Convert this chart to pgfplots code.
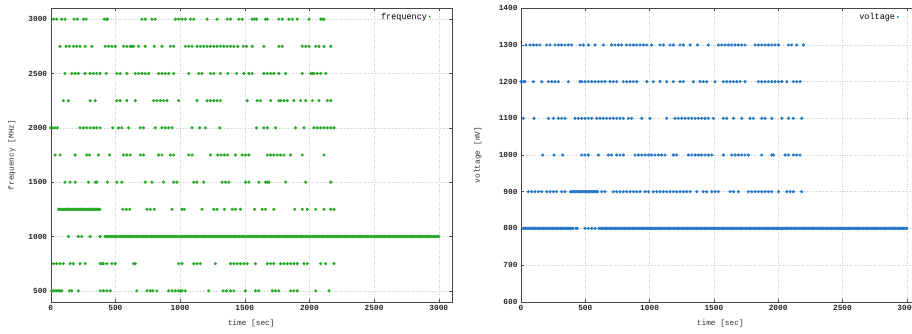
\documentclass[border=0pt]{standalone}
\usepackage{pgfplots}
\pgfplotsset{compat=1.18}
\usepackage{pgfplotstable}
\usepackage{fontspec}
\setmonofont{Liberation Mono}
\definecolor{fgreen}{RGB}{40,170,40}
\definecolor{vblue}{RGB}{40,120,200}

% frequency samples (time [sec], frequency [MHz])
\pgfplotstableread[row sep=\\]{
t f\\
21 3000\\ 46 3000\\ 85 3000\\ 111 3000\\ 181 3000\\ 207 3000\\ 253 3000\\ 274 3000\\ 413 3000\\ 429 3000\\ 439 3000\\ 705 3000\\ 731 3000\\ 783 3000\\ 808 3000\\ 963 3000\\ 989 3000\\ 1015 3000\\ 1041 3000\\ 1080 3000\\ 1106 3000\\ 1209 3000\\ 1286 3000\\ 1364 3000\\ 1390 3000\\ 1454 3000\\ 1480 3000\\ 1558 3000\\ 1576 3000\\ 1591 3000\\ 1661 3000\\ 1674 3000\\ 1764 3000\\ 1790 3000\\ 1842 3000\\ 1868 3000\\ 1906 3000\\ 1997 3000\\ 2087 3000\\ 2100 3000\\ 2113 3000\\
72 2750\\ 119 2750\\ 145 2750\\ 176 2750\\ 201 2750\\ 227 2750\\ 266 2750\\ 318 2750\\ 421 2750\\ 447 2750\\ 473 2750\\ 499 2750\\ 563 2750\\ 589 2750\\ 615 2750\\ 628 2750\\ 641 2750\\ 679 2750\\ 731 2750\\ 801 2750\\ 860 2750\\ 925 2750\\ 951 2750\\ 1041 2750\\ 1067 2750\\ 1093 2750\\ 1131 2750\\ 1157 2750\\ 1183 2750\\ 1209 2750\\ 1235 2750\\ 1261 2750\\ 1286 2750\\ 1312 2750\\ 1338 2750\\ 1364 2750\\ 1390 2750\\ 1416 2750\\ 1446 2750\\ 1488 2750\\ 1514 2750\\ 1558 2750\\ 1648 2750\\ 1764 2750\\ 1790 2750\\ 1945 2750\\ 1971 2750\\ 1997 2750\\ 2048 2750\\ 2074 2750\\ 2113 2750\\ 2165 2750\\
111 2500\\ 163 2500\\ 189 2500\\ 214 2500\\ 266 2500\\ 305 2500\\ 331 2500\\ 356 2500\\ 382 2500\\ 429 2500\\ 511 2500\\ 537 2500\\ 589 2500\\ 654 2500\\ 679 2500\\ 705 2500\\ 731 2500\\ 757 2500\\ 834 2500\\ 860 2500\\ 886 2500\\ 912 2500\\ 951 2500\\ 1067 2500\\ 1144 2500\\ 1170 2500\\ 1235 2500\\ 1261 2500\\ 1312 2500\\ 1369 2500\\ 1436 2500\\ 1493 2500\\ 1532 2500\\ 1558 2500\\ 1648 2500\\ 1674 2500\\ 1700 2500\\ 1725 2500\\ 1764 2500\\ 1816 2500\\ 1945 2500\\ 2010 2500\\ 2023 2500\\ 2035 2500\\ 2061 2500\\ 2087 2500\\ 2126 2500\\
98 2250\\ 137 2250\\ 305 2250\\ 344 2250\\ 511 2250\\ 537 2250\\ 589 2250\\ 654 2250\\ 796 2250\\ 821 2250\\ 847 2250\\ 873 2250\\ 899 2250\\ 989 2250\\ 1131 2250\\ 1209 2250\\ 1235 2250\\ 1261 2250\\ 1286 2250\\ 1312 2250\\ 1519 2250\\ 1596 2250\\ 1622 2250\\ 1700 2250\\ 1764 2250\\ 1777 2250\\ 1803 2250\\ 1829 2250\\ 1880 2250\\ 1932 2250\\ 1971 2250\\ 2023 2250\\ 2074 2250\\ 2139 2250\\ 2165 2250\\
0 2000\\ 15 2000\\ 34 2000\\ 52 2000\\ 227 2000\\ 253 2000\\ 279 2000\\ 305 2000\\ 331 2000\\ 356 2000\\ 382 2000\\ 480 2000\\ 524 2000\\ 550 2000\\ 602 2000\\ 692 2000\\ 718 2000\\ 808 2000\\ 860 2000\\ 886 2000\\ 912 2000\\ 938 2000\\ 1093 2000\\ 1152 2000\\ 1196 2000\\ 1307 2000\\ 1591 2000\\ 1648 2000\\ 1674 2000\\ 1738 2000\\ 1893 2000\\ 1958 2000\\ 2035 2000\\ 2061 2000\\ 2087 2000\\ 2113 2000\\ 2139 2000\\ 2165 2000\\ 2190 2000\\
34 1750\\ 72 1750\\ 189 1750\\ 279 1750\\ 300 1750\\ 369 1750\\ 455 1750\\ 563 1750\\ 589 1750\\ 615 1750\\ 692 1750\\ 718 1750\\ 834 1750\\ 860 1750\\ 925 1750\\ 951 1750\\ 1067 1750\\ 1093 1750\\ 1235 1750\\ 1292 1750\\ 1317 1750\\ 1343 1750\\ 1369 1750\\ 1428 1750\\ 1480 1750\\ 1506 1750\\ 1532 1750\\ 1674 1750\\ 1700 1750\\ 1725 1750\\ 1751 1750\\ 1777 1750\\ 1803 1750\\ 1855 1750\\ 1945 1750\\ 2113 1750\\
111 1500\\ 150 1500\\ 189 1500\\ 292 1500\\ 344 1500\\ 356 1500\\ 439 1500\\ 511 1500\\ 550 1500\\ 731 1500\\ 783 1500\\ 873 1500\\ 951 1500\\ 976 1500\\ 1106 1500\\ 1131 1500\\ 1183 1500\\ 1325 1500\\ 1351 1500\\ 1377 1500\\ 1506 1500\\ 1532 1500\\ 1609 1500\\ 1661 1500\\ 1674 1500\\ 1687 1500\\ 1816 1500\\ 1971 1500\\ 2165 1500\\
60 1250\\ 70 1250\\ 80 1250\\ 90 1250\\ 100 1250\\ 110 1250\\ 120 1250\\ 130 1250\\ 140 1250\\ 150 1250\\ 160 1250\\ 170 1250\\ 180 1250\\ 190 1250\\ 200 1250\\ 210 1250\\ 220 1250\\ 230 1250\\ 240 1250\\ 250 1250\\ 260 1250\\ 270 1250\\ 280 1250\\ 290 1250\\ 300 1250\\ 310 1250\\ 320 1250\\ 330 1250\\ 340 1250\\ 350 1250\\ 360 1250\\ 370 1250\\ 380 1250\\
558 1250\\ 584 1250\\ 610 1250\\ 744 1250\\ 770 1250\\ 801 1250\\ 938 1250\\ 1015 1250\\ 1033 1250\\ 1170 1250\\ 1261 1250\\ 1286 1250\\ 1343 1250\\ 1403 1250\\ 1428 1250\\ 1467 1250\\ 1576 1250\\ 1635 1250\\ 1661 1250\\ 1725 1250\\ 1886 1250\\ 1945 1250\\ 1984 1250\\ 2048 1250\\ 2113 1250\\ 2165 1250\\ 2190 1250\\
137 1000\\ 214 1000\\ 240 1000\\ 305 1000\\ 382 1000\\
420 1000\\ 430 1000\\ 440 1000\\ 450 1000\\ 460 1000\\ 470 1000\\ 480 1000\\ 490 1000\\ 500 1000\\ 510 1000\\ 520 1000\\ 530 1000\\ 540 1000\\ 550 1000\\ 560 1000\\ 570 1000\\ 580 1000\\ 590 1000\\ 600 1000\\ 610 1000\\ 620 1000\\ 630 1000\\ 640 1000\\ 650 1000\\ 660 1000\\ 670 1000\\ 680 1000\\ 690 1000\\ 700 1000\\ 710 1000\\ 720 1000\\ 730 1000\\ 740 1000\\ 750 1000\\ 760 1000\\ 770 1000\\ 780 1000\\ 790 1000\\ 800 1000\\ 810 1000\\ 820 1000\\ 830 1000\\ 840 1000\\ 850 1000\\ 860 1000\\ 870 1000\\ 880 1000\\ 890 1000\\ 900 1000\\ 910 1000\\ 920 1000\\ 930 1000\\ 940 1000\\ 950 1000\\ 960 1000\\ 970 1000\\ 980 1000\\ 990 1000\\
1000 1000\\ 1010 1000\\ 1020 1000\\ 1030 1000\\ 1040 1000\\ 1050 1000\\ 1060 1000\\ 1070 1000\\ 1080 1000\\ 1090 1000\\ 1100 1000\\ 1110 1000\\ 1120 1000\\ 1130 1000\\ 1140 1000\\ 1150 1000\\ 1160 1000\\ 1170 1000\\ 1180 1000\\ 1190 1000\\ 1200 1000\\ 1210 1000\\ 1220 1000\\ 1230 1000\\ 1240 1000\\ 1250 1000\\ 1260 1000\\ 1270 1000\\ 1280 1000\\ 1290 1000\\ 1300 1000\\ 1310 1000\\ 1320 1000\\ 1330 1000\\ 1340 1000\\ 1350 1000\\ 1360 1000\\ 1370 1000\\ 1380 1000\\ 1390 1000\\ 1400 1000\\ 1410 1000\\ 1420 1000\\ 1430 1000\\ 1440 1000\\ 1450 1000\\ 1460 1000\\ 1470 1000\\ 1480 1000\\ 1490 1000\\
1500 1000\\ 1510 1000\\ 1520 1000\\ 1530 1000\\ 1540 1000\\ 1550 1000\\ 1560 1000\\ 1570 1000\\ 1580 1000\\ 1590 1000\\ 1600 1000\\ 1610 1000\\ 1620 1000\\ 1630 1000\\ 1640 1000\\ 1650 1000\\ 1660 1000\\ 1670 1000\\ 1680 1000\\ 1690 1000\\ 1700 1000\\ 1710 1000\\ 1720 1000\\ 1730 1000\\ 1740 1000\\ 1750 1000\\ 1760 1000\\ 1770 1000\\ 1780 1000\\ 1790 1000\\ 1800 1000\\ 1810 1000\\ 1820 1000\\ 1830 1000\\ 1840 1000\\ 1850 1000\\ 1860 1000\\ 1870 1000\\ 1880 1000\\ 1890 1000\\ 1900 1000\\ 1910 1000\\ 1920 1000\\ 1930 1000\\ 1940 1000\\ 1950 1000\\ 1960 1000\\ 1970 1000\\ 1980 1000\\ 1990 1000\\
2000 1000\\ 2010 1000\\ 2020 1000\\ 2030 1000\\ 2040 1000\\ 2050 1000\\ 2060 1000\\ 2070 1000\\ 2080 1000\\ 2090 1000\\ 2100 1000\\ 2110 1000\\ 2120 1000\\ 2130 1000\\ 2140 1000\\ 2150 1000\\ 2160 1000\\ 2170 1000\\ 2180 1000\\ 2190 1000\\ 2200 1000\\ 2210 1000\\ 2220 1000\\ 2230 1000\\ 2240 1000\\ 2250 1000\\ 2260 1000\\ 2270 1000\\ 2280 1000\\ 2290 1000\\ 2300 1000\\ 2310 1000\\ 2320 1000\\ 2330 1000\\ 2340 1000\\ 2350 1000\\ 2360 1000\\ 2370 1000\\ 2380 1000\\ 2390 1000\\ 2400 1000\\ 2410 1000\\ 2420 1000\\ 2430 1000\\ 2440 1000\\ 2450 1000\\ 2460 1000\\ 2470 1000\\ 2480 1000\\ 2490 1000\\
2500 1000\\ 2510 1000\\ 2520 1000\\ 2530 1000\\ 2540 1000\\ 2550 1000\\ 2560 1000\\ 2570 1000\\ 2580 1000\\ 2590 1000\\ 2600 1000\\ 2610 1000\\ 2620 1000\\ 2630 1000\\ 2640 1000\\ 2650 1000\\ 2660 1000\\ 2670 1000\\ 2680 1000\\ 2690 1000\\ 2700 1000\\ 2710 1000\\ 2720 1000\\ 2730 1000\\ 2740 1000\\ 2750 1000\\ 2760 1000\\ 2770 1000\\ 2780 1000\\ 2790 1000\\ 2800 1000\\ 2810 1000\\ 2820 1000\\ 2830 1000\\ 2840 1000\\ 2850 1000\\ 2860 1000\\ 2870 1000\\ 2880 1000\\ 2890 1000\\ 2900 1000\\ 2910 1000\\ 2920 1000\\ 2930 1000\\ 2940 1000\\ 2950 1000\\ 2960 1000\\ 2970 1000\\ 2980 1000\\ 2990 1000\\ 3000 1000\\
21 750\\ 46 750\\ 72 750\\ 98 750\\ 150 750\\ 176 750\\ 227 750\\ 266 750\\ 382 750\\ 395 750\\ 408 750\\ 434 750\\ 473 750\\ 499 750\\ 641 750\\ 654 750\\ 989 750\\ 1015 750\\ 1106 750\\ 1131 750\\ 1157 750\\ 1273 750\\ 1390 750\\ 1416 750\\ 1441 750\\ 1467 750\\ 1493 750\\ 1519 750\\ 1583 750\\ 1674 750\\ 1700 750\\ 1725 750\\ 1777 750\\ 1803 750\\ 1829 750\\ 1855 750\\ 1880 750\\ 1906 750\\ 1958 750\\ 1984 750\\ 2087 750\\ 2126 750\\ 2190 750\\
8 500\\ 21 500\\ 34 500\\ 46 500\\ 59 500\\ 72 500\\ 85 500\\ 145 500\\ 163 500\\ 214 500\\ 382 500\\ 408 500\\ 434 500\\ 460 500\\ 666 500\\ 744 500\\ 770 500\\ 790 500\\ 821 500\\ 912 500\\ 938 500\\ 963 500\\ 989 500\\ 1002 500\\ 1015 500\\ 1041 500\\ 1222 500\\ 1333 500\\ 1359 500\\ 1390 500\\ 1416 500\\ 1506 500\\ 1583 500\\ 1609 500\\ 1713 500\\ 1738 500\\ 1764 500\\ 1855 500\\ 1880 500\\ 1906 500\\ 2048 500\\ 2152 500\\
}\freqdata

% voltage samples (time [sec], voltage [mV])
\pgfplotstableread[row sep=\\]{
t v\\
39 1300\\ 70 1300\\ 96 1300\\ 122 1300\\ 148 1300\\ 200 1300\\ 226 1300\\ 264 1300\\ 290 1300\\ 316 1300\\ 342 1300\\ 368 1300\\ 394 1300\\ 459 1300\\ 485 1300\\ 524 1300\\ 576 1300\\ 640 1300\\ 705 1300\\ 731 1300\\ 757 1300\\ 783 1300\\ 822 1300\\ 848 1300\\ 874 1300\\ 900 1300\\ 926 1300\\ 952 1300\\ 978 1300\\ 1016 1300\\ 1081 1300\\ 1107 1300\\ 1159 1300\\ 1185 1300\\ 1237 1300\\ 1263 1300\\ 1315 1300\\ 1372 1300\\ 1457 1300\\ 1535 1300\\ 1561 1300\\ 1587 1300\\ 1613 1300\\ 1639 1300\\ 1665 1300\\ 1691 1300\\ 1717 1300\\ 1742 1300\\ 1820 1300\\ 1846 1300\\ 1872 1300\\ 1898 1300\\ 1924 1300\\ 1950 1300\\ 1976 1300\\ 2002 1300\\ 2080 1300\\ 2106 1300\\ 2144 1300\\ 2196 1300\\
0 1200\\ 5 1200\\ 18 1200\\ 31 1200\\ 96 1200\\ 161 1200\\ 213 1200\\ 239 1200\\ 264 1200\\ 290 1200\\ 368 1200\\ 459 1200\\ 472 1200\\ 498 1200\\ 524 1200\\ 550 1200\\ 576 1200\\ 602 1200\\ 627 1200\\ 653 1200\\ 692 1200\\ 718 1200\\ 744 1200\\ 796 1200\\ 822 1200\\ 848 1200\\ 874 1200\\ 900 1200\\ 978 1200\\ 1029 1200\\ 1081 1200\\ 1133 1200\\ 1185 1200\\ 1237 1200\\ 1263 1200\\ 1341 1200\\ 1392 1200\\ 1418 1200\\ 1444 1200\\ 1509 1200\\ 1574 1200\\ 1600 1200\\ 1626 1200\\ 1652 1200\\ 1678 1200\\ 1704 1200\\ 1742 1200\\ 1846 1200\\ 1872 1200\\ 1898 1200\\ 1924 1200\\ 1950 1200\\ 1976 1200\\ 2002 1200\\ 2028 1200\\ 2067 1200\\ 2118 1200\\ 2144 1200\\ 2170 1200\\
18 1100\\ 101 1100\\ 213 1100\\ 252 1100\\ 290 1100\\ 316 1100\\ 342 1100\\ 420 1100\\ 446 1100\\ 472 1100\\ 498 1100\\ 524 1100\\ 550 1100\\ 589 1100\\ 615 1100\\ 640 1100\\ 666 1100\\ 692 1100\\ 718 1100\\ 744 1100\\ 770 1100\\ 796 1100\\ 835 1100\\ 861 1100\\ 939 1100\\ 1003 1100\\ 1133 1100\\ 1198 1100\\ 1224 1100\\ 1250 1100\\ 1276 1100\\ 1302 1100\\ 1328 1100\\ 1354 1100\\ 1379 1100\\ 1405 1100\\ 1431 1100\\ 1457 1100\\ 1496 1100\\ 1574 1100\\ 1600 1100\\ 1652 1100\\ 1717 1100\\ 1781 1100\\ 1807 1100\\ 1872 1100\\ 1898 1100\\ 1950 1100\\ 2028 1100\\ 2080 1100\\ 2118 1100\\ 2183 1100\\
169 1000\\ 257 1000\\ 324 1000\\ 472 1000\\ 498 1000\\ 524 1000\\ 602 1000\\ 679 1000\\ 705 1000\\ 744 1000\\ 770 1000\\ 796 1000\\ 887 1000\\ 913 1000\\ 939 1000\\ 965 1000\\ 991 1000\\ 1016 1000\\ 1042 1000\\ 1068 1000\\ 1094 1000\\ 1120 1000\\ 1185 1000\\ 1211 1000\\ 1302 1000\\ 1328 1000\\ 1354 1000\\ 1379 1000\\ 1405 1000\\ 1431 1000\\ 1457 1000\\ 1483 1000\\ 1574 1000\\ 1639 1000\\ 1665 1000\\ 1691 1000\\ 1717 1000\\ 1742 1000\\ 1768 1000\\ 1872 1000\\ 1950 1000\\ 1963 1000\\ 2054 1000\\ 2080 1000\\ 2118 1000\\ 2144 1000\\ 2170 1000\\
57 900\\ 83 900\\ 109 900\\ 135 900\\ 161 900\\ 200 900\\ 226 900\\ 252 900\\ 277 900\\ 316 900\\ 342 900\\
385 900\\ 395 900\\ 405 900\\ 415 900\\ 425 900\\ 435 900\\ 445 900\\ 455 900\\ 465 900\\ 475 900\\ 485 900\\ 495 900\\ 505 900\\ 515 900\\ 525 900\\ 535 900\\ 545 900\\ 555 900\\ 565 900\\ 575 900\\ 585 900\\ 595 900\\
627 900\\ 653 900\\ 718 900\\ 744 900\\ 770 900\\ 796 900\\ 822 900\\ 848 900\\ 874 900\\ 900 900\\ 926 900\\ 965 900\\ 991 900\\ 1029 900\\ 1055 900\\ 1081 900\\ 1107 900\\ 1133 900\\ 1159 900\\ 1185 900\\ 1211 900\\ 1237 900\\ 1263 900\\ 1289 900\\ 1315 900\\ 1367 900\\ 1418 900\\ 1444 900\\ 1483 900\\ 1509 900\\ 1535 900\\ 1626 900\\ 1652 900\\ 1691 900\\ 1768 900\\ 1794 900\\ 1820 900\\ 1846 900\\ 1872 900\\ 1898 900\\ 1924 900\\ 1950 900\\ 2002 900\\ 2067 900\\ 2093 900\\ 2118 900\\ 2183 900\\
15 800\\ 25 800\\ 35 800\\ 45 800\\ 55 800\\ 65 800\\ 75 800\\ 85 800\\ 95 800\\ 105 800\\ 115 800\\ 125 800\\ 135 800\\ 145 800\\ 155 800\\ 165 800\\ 175 800\\ 185 800\\ 195 800\\ 205 800\\ 215 800\\ 225 800\\ 235 800\\ 245 800\\ 255 800\\ 265 800\\ 275 800\\ 285 800\\ 295 800\\ 305 800\\ 315 800\\ 325 800\\ 335 800\\ 345 800\\ 355 800\\ 365 800\\ 375 800\\ 385 800\\ 395 800\\ 405 800\\
428 800\\ 438 800\\ 498 800\\ 524 800\\ 550 800\\ 576 800\\
605 800\\ 615 800\\ 625 800\\ 635 800\\ 645 800\\ 655 800\\ 665 800\\ 675 800\\ 685 800\\ 695 800\\ 705 800\\ 715 800\\ 725 800\\ 735 800\\ 745 800\\ 755 800\\ 765 800\\ 775 800\\ 785 800\\ 795 800\\ 805 800\\ 815 800\\ 825 800\\ 835 800\\ 845 800\\ 855 800\\ 865 800\\ 875 800\\ 885 800\\ 895 800\\ 905 800\\ 915 800\\ 925 800\\ 935 800\\ 945 800\\ 955 800\\ 965 800\\ 975 800\\ 985 800\\ 995 800\\
1005 800\\ 1015 800\\ 1025 800\\ 1035 800\\ 1045 800\\ 1055 800\\ 1065 800\\ 1075 800\\ 1085 800\\ 1095 800\\ 1105 800\\ 1115 800\\ 1125 800\\ 1135 800\\ 1145 800\\ 1155 800\\ 1165 800\\ 1175 800\\ 1185 800\\ 1195 800\\ 1205 800\\ 1215 800\\ 1225 800\\ 1235 800\\ 1245 800\\ 1255 800\\ 1265 800\\ 1275 800\\ 1285 800\\ 1295 800\\ 1305 800\\ 1315 800\\ 1325 800\\ 1335 800\\ 1345 800\\ 1355 800\\ 1365 800\\ 1375 800\\ 1385 800\\ 1395 800\\ 1405 800\\ 1415 800\\ 1425 800\\ 1435 800\\ 1445 800\\ 1455 800\\ 1465 800\\ 1475 800\\ 1485 800\\ 1495 800\\
1505 800\\ 1515 800\\ 1525 800\\ 1535 800\\ 1545 800\\ 1555 800\\ 1565 800\\ 1575 800\\ 1585 800\\ 1595 800\\ 1605 800\\ 1615 800\\ 1625 800\\ 1635 800\\ 1645 800\\ 1655 800\\ 1665 800\\ 1675 800\\ 1685 800\\ 1695 800\\ 1705 800\\ 1715 800\\ 1725 800\\ 1735 800\\ 1745 800\\ 1755 800\\ 1765 800\\ 1775 800\\ 1785 800\\ 1795 800\\ 1805 800\\ 1815 800\\ 1825 800\\ 1835 800\\ 1845 800\\ 1855 800\\ 1865 800\\ 1875 800\\ 1885 800\\ 1895 800\\ 1905 800\\ 1915 800\\ 1925 800\\ 1935 800\\ 1945 800\\ 1955 800\\ 1965 800\\ 1975 800\\ 1985 800\\ 1995 800\\
2005 800\\ 2015 800\\ 2025 800\\ 2035 800\\ 2045 800\\ 2055 800\\ 2065 800\\ 2075 800\\ 2085 800\\ 2095 800\\ 2105 800\\ 2115 800\\ 2125 800\\ 2135 800\\ 2145 800\\ 2155 800\\ 2165 800\\ 2175 800\\ 2185 800\\ 2195 800\\ 2205 800\\ 2215 800\\ 2225 800\\ 2235 800\\ 2245 800\\ 2255 800\\ 2265 800\\ 2275 800\\ 2285 800\\ 2295 800\\ 2305 800\\ 2315 800\\ 2325 800\\ 2335 800\\ 2345 800\\ 2355 800\\ 2365 800\\ 2375 800\\ 2385 800\\ 2395 800\\ 2405 800\\ 2415 800\\ 2425 800\\ 2435 800\\ 2445 800\\ 2455 800\\ 2465 800\\ 2475 800\\ 2485 800\\ 2495 800\\
2505 800\\ 2515 800\\ 2525 800\\ 2535 800\\ 2545 800\\ 2555 800\\ 2565 800\\ 2575 800\\ 2585 800\\ 2595 800\\ 2605 800\\ 2615 800\\ 2625 800\\ 2635 800\\ 2645 800\\ 2655 800\\ 2665 800\\ 2675 800\\ 2685 800\\ 2695 800\\ 2705 800\\ 2715 800\\ 2725 800\\ 2735 800\\ 2745 800\\ 2755 800\\ 2765 800\\ 2775 800\\ 2785 800\\ 2795 800\\ 2805 800\\ 2815 800\\ 2825 800\\ 2835 800\\ 2845 800\\ 2855 800\\ 2865 800\\ 2875 800\\ 2885 800\\ 2895 800\\ 2905 800\\ 2915 800\\ 2925 800\\ 2935 800\\ 2945 800\\ 2955 800\\ 2965 800\\ 2975 800\\ 2985 800\\ 2995 800\\ 3000 800\\
}\voltdata

\pgfplotsset{
  gp/.style={
    scale only axis, height=293.4pt,
    xmin=0, xmax=3100, xtick={0,500,...,3000},
    grid=major, grid style={dotted, gray!40},
    axis line style={gray!55!black},
    tick align=inside, major tick length=3pt,
    tick style={gray!55!black, thin},
    tick label style={font=\ttfamily\bfseries\fontsize{7.8}{9}\selectfont, text=black!85},
    /pgf/number format/assume math mode=true,
    /pgf/number format/1000 sep={},
    scaled ticks=false,
    label style={font=\ttfamily\fontsize{7.8}{9}\selectfont, text=black!80},
    xlabel style={at={(axis description cs:0.5,-0.075)}, anchor=center},
    legend style={draw=none, fill=none, font=\ttfamily\fontsize{8.5}{10}\selectfont,
      at={(0.95,0.995)}, anchor=north east, inner sep=1pt},
    legend plot pos=right,
    legend image code/.code={\draw[#1, mark size=0.7pt] plot coordinates {(0.12cm,0cm)};},
  },
}

\begin{document}
\begin{tikzpicture}
\useasboundingbox (0,0) rectangle (912pt,333pt);
\begin{axis}[gp, at={(50.7pt,31.3pt)}, anchor=south west, width=401pt,
    ymin=400, ymax=3100, ytick={500,1000,...,3000},
    xlabel={time [sec]}, ylabel={frequency [MHz]},
    ylabel style={at={(axis description cs:-0.097,0.5)}, anchor=center}]
  \addplot[only marks, mark=*, mark size=1.4pt, color=fgreen] table[x=t, y=f] {\freqdata};
  \addlegendentry{frequency}
\end{axis}
\begin{axis}[gp, at={(521pt,31.3pt)}, anchor=south west, width=398.6pt,
    ymin=600, ymax=1400, ytick={600,700,...,1400},
    xlabel={time [sec]}, ylabel={voltage [mV]},
    ylabel style={at={(axis description cs:-0.108,0.5)}, anchor=center}]
  \addplot[only marks, mark=*, mark size=1.4pt, color=vblue] table[x=t, y=v] {\voltdata};
  \addlegendentry{voltage}
\end{axis}
\end{tikzpicture}
\end{document}
